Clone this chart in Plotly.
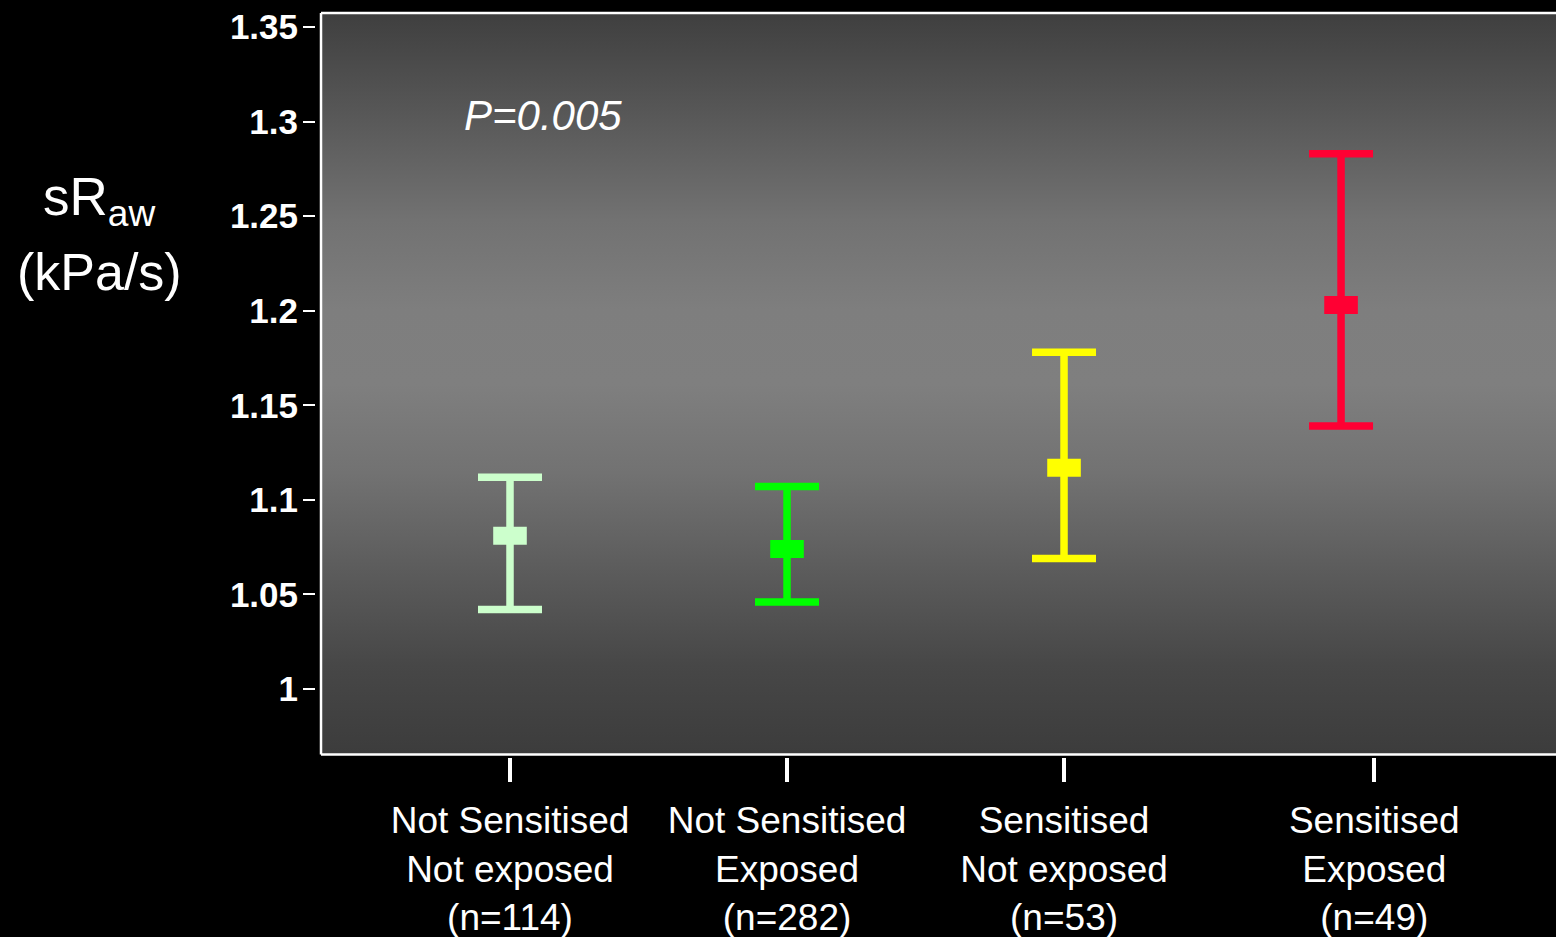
import plotly.graph_objects as go

# Airway resistance by sensitisation / exposure group
groups = ["Not Sensitised<br>Not exposed<br>(n=114)",
          "Not Sensitised<br>Exposed<br>(n=282)",
          "Sensitised<br>Not exposed<br>(n=53)",
          "Sensitised<br>Exposed<br>(n=49)"]
mean_sraw = [1.081, 1.074, 1.117, 1.203]
upper_ci = [1.112, 1.107, 1.178, 1.283]
lower_ci = [1.042, 1.046, 1.069, 1.139]
group_colors = ["#ccffcc", "#00ff00", "#ffff00", "#ff0033"]
y_ticks = [1, 1.05, 1.1, 1.15, 1.2, 1.25, 1.3, 1.35]
y_ticktext = ["1", "1.05", "1.1", "1.15", "1.2", "1.25", "1.3", "1.35"]
p_value_text = "<i>P=0.005</i>"

# horizontal placement of markers and of the category labels
marker_x = [1, 2, 3, 4]
label_x = [1, 2, 3, 4.12]

W, H = 1556, 937
M_L, M_R, M_T, M_B = 315, 0, 13, 180
PW, PH = W - M_L - M_R, H - M_T - M_B
X_RANGE = [0.3177, 4.776]
Y_RANGE = [0.96537, 1.3574]
FONT = "Liberation Sans, Arial, Helvetica, sans-serif"


def px_x(p):
    return (p - M_L) / PW


def px_y(p):
    return (H - M_B - p) / PH


fig = go.Figure()

# grey vertical gradient behind the data (base x/y subplot)
fig.add_trace(go.Scatter(
    x=[X_RANGE[0], X_RANGE[1], X_RANGE[1], X_RANGE[0], X_RANGE[0]],
    y=[Y_RANGE[0], Y_RANGE[0], Y_RANGE[1], Y_RANGE[1], Y_RANGE[0]],
    mode="lines", line=dict(width=0), fill="toself",
    fillgradient=dict(type="vertical", start=Y_RANGE[0], stop=Y_RANGE[1],
                      colorscale=[[0.0, "#3c3c3c"], [0.12, "#474747"],
                                  [0.25, "#5c5c5c"], [0.38, "#727272"],
                                  [0.5, "#7f7f7f"], [0.6, "#7e7e7e"],
                                  [0.72, "#727272"], [0.85, "#5a5a5a"],
                                  [1.0, "#3f3f3f"]]),
    xaxis="x", yaxis="y", hoverinfo="skip", showlegend=False,
))

# group means with confidence intervals on the visible overlay axes
for i in range(len(groups)):
    fig.add_trace(go.Scatter(
        x=[marker_x[i]], y=[mean_sraw[i]],
        xaxis="x2", yaxis="y2",
        mode="markers",
        marker=dict(symbol="line-ew", size=24, color=group_colors[i],
                    line=dict(width=18, color=group_colors[i])),
        error_y=dict(type="data", symmetric=False,
                     array=[upper_ci[i] - mean_sraw[i]],
                     arrayminus=[mean_sraw[i] - lower_ci[i]],
                     color=group_colors[i], thickness=7.5, width=32),
        showlegend=False,
    ))

dx = 6 / PW
dy = 2.5 / PH

fig.update_layout(
    width=W, height=H,
    margin=dict(l=M_L, r=M_R, t=M_T, b=M_B, pad=0, autoexpand=False),
    paper_bgcolor="black", plot_bgcolor="black",
    font=dict(family=FONT, color="white"),
    xaxis=dict(domain=[dx, 1], range=X_RANGE, showgrid=False, zeroline=False,
               showticklabels=False, ticks="", showline=False, automargin=False),
    yaxis=dict(domain=[dy, 1], range=Y_RANGE, showgrid=False, zeroline=False,
               showticklabels=False, ticks="", showline=False, automargin=False),
    xaxis2=dict(overlaying="x", anchor="free", position=0, range=X_RANGE,
                domain=[dx, 1], showgrid=False, zeroline=False, showline=False,
                automargin=False,
                tickmode="array", tickvals=label_x, ticktext=groups,
                ticks="outside", ticklen=24, tickwidth=4, tickcolor="white",
                ticklabelstandoff=7,
                tickfont=dict(family=FONT, size=37, color="white")),
    yaxis2=dict(overlaying="y", anchor="free", position=0, range=Y_RANGE,
                domain=[dy, 1], showgrid=False, zeroline=False, showline=False,
                automargin=False,
                tickmode="array", tickvals=y_ticks, ticktext=y_ticktext,
                ticks="outside", ticklen=12, tickwidth=2, tickcolor="white",
                ticklabelstandoff=-2,
                tickfont=dict(family=FONT, size=35, color="white", weight="bold")),
    shapes=[
        dict(type="line", xref="x domain", yref="y domain", x0=0, x1=0, y0=0, y1=1,
             line=dict(color="white", width=2.5)),
        dict(type="line", xref="x domain", yref="y domain", x0=0, x1=1, y0=1, y1=1,
             line=dict(color="white", width=2.5)),
        dict(type="line", xref="x domain", yref="y domain", x0=0, x1=1, y0=0, y1=0,
             line=dict(color="white", width=2.5)),
    ],
    annotations=[
        dict(text="sR<sub>aw</sub>", xref="paper", yref="paper",
             x=px_x(99), y=px_y(200), xanchor="center", yanchor="middle",
             showarrow=False, font=dict(family=FONT, size=53, color="white")),
        dict(text="(kPa/s)", xref="paper", yref="paper",
             x=px_x(99), y=px_y(272), xanchor="center", yanchor="middle",
             showarrow=False, font=dict(family=FONT, size=52, color="white")),
        dict(text=p_value_text, xref="paper", yref="paper",
             x=px_x(462), y=px_y(116), xanchor="left", yanchor="middle",
             showarrow=False, font=dict(family=FONT, size=42, color="white")),
    ],
)

fig.write_html("out.html")
